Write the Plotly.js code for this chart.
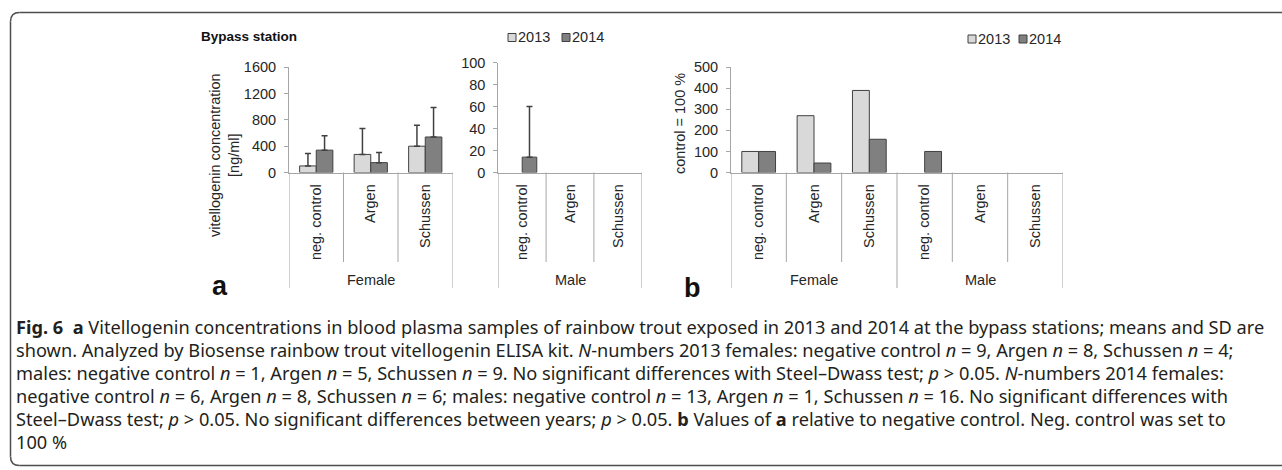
<!DOCTYPE html>
<html><head><meta charset="utf-8">
<script src="https://cdn.plot.ly/plotly-3.0.1.min.js"></script>
<style>html,body{margin:0;padding:0;background:#fff;overflow:hidden}#chart{width:1282px;height:470px}</style>
</head><body><div id="chart"></div>
<script>
// ---------- data ----------
const categories = ['neg. control', 'Argen', 'Schussen'];
const groups = ['Female', 'Male'];
const years = ['2013', '2014'];
// panel a, Female: vitellogenin [ng/ml], mean and SD (upper bar)
const femaleMean2013 = [100, 275, 400];
const femaleSD2013 = [190, 395, 320];
const femaleMean2014 = [340, 150, 540];
const femaleSD2014 = [220, 155, 450];
// panel a, Male
const maleMean2013 = [null, null, null];
const maleSD2013 = [null, null, null];
const maleMean2014 = [14, null, null];
const maleSD2014 = [46, null, null];
// panel b: relative to negative control (control = 100 %)
const relFemale2013 = [100, 270, 390];
const relFemale2014 = [100, 45, 158];
const relMale2013 = [null, null, null];
const relMale2014 = [100, null, null];
const yTicksFemale = [0, 400, 800, 1200, 1600];
const yTicksMale = [0, 20, 40, 60, 80, 100];
const yTicksRel = [0, 100, 200, 300, 400, 500];

// ---------- helpers ----------
const W = 1282, H = 470;
const fx = p => p / W;
const fy = p => 1 - p / H;
const FONT = 'Liberation Sans, Arial, sans-serif';
const TXT = '#262626';
const AX = '#a6a6a6';
const C13 = '#d9d9d9', C14 = '#808080', EDGE = '#404040';
const ZERO = 172.5;

function errs(arr) { return { type: 'data', array: arr, arrayminus: arr.map(() => 0), symmetric: false, color: EDGE, thickness: 1.5, width: 3 }; }
function bar(name, x, y, color, xa, ya, err) {
  const t = { type: 'bar', name: name, x: x, y: y, xaxis: xa, yaxis: ya, offsetgroup: name,
    marker: { color: color, line: { color: EDGE, width: 1 } }, showlegend: false, hoverinfo: 'x+y' };
  if (err) t.error_y = errs(err);
  return t;
}
const idx3 = categories.map((c, i) => i);
const relCats = groups.flatMap(() => categories);
const idx6 = relCats.map((c, i) => i);

const data = [
  bar(years[0], idx3, femaleMean2013, C13, 'x', 'y', femaleSD2013),
  bar(years[1], idx3, femaleMean2014, C14, 'x', 'y', femaleSD2014),
  bar(years[0], idx3, maleMean2013, C13, 'x2', 'y2', maleSD2013),
  bar(years[1], idx3, maleMean2014, C14, 'x2', 'y2', maleSD2014),
  bar(years[0], idx6, relFemale2013.concat(relMale2013), C13, 'x3', 'y3'),
  bar(years[1], idx6, relFemale2014.concat(relMale2014), C14, 'x3', 'y3')
];

function xaxis(x0, x1, n, labels) {
  return { domain: [fx(x0), fx(x1)], range: [-0.5, n - 0.5], tickmode: 'array',
    tickvals: labels.map((l, i) => i), ticktext: labels, tickangle: -90, ticks: '',
    ticklabelstandoff: 5, showline: true, linecolor: AX, linewidth: 1, showgrid: false, zeroline: false,
    tickfont: { family: FONT, size: 14.5, color: TXT }, fixedrange: true };
}
function yaxis(anchor, top, ticks) {
  return { anchor: anchor, domain: [fy(ZERO), fy(top)], range: [ticks[0], ticks[ticks.length - 1]],
    tickmode: 'array', tickvals: ticks, ticks: 'outside', ticklen: 4, tickcolor: AX,
    ticklabelstandoff: 5,
    showline: true, linecolor: AX, linewidth: 1, showgrid: false, zeroline: false,
    tickfont: { family: FONT, size: 14.5, color: TXT }, fixedrange: true };
}

const shapes = [];
const annotations = [];
function dividers(xref, n) {
  for (let i = 0; i <= n; i++) {
    const outer = (i % 3 === 0);
    shapes.push({ type: 'line', xref: xref, yref: 'paper', x0: i - 0.5, x1: i - 0.5,
      y0: fy(ZERO), y1: fy(outer ? 288 : 262), line: { color: AX, width: 1 } });
  }
}
dividers('x', 3); dividers('x2', 3); dividers('x3', 6);

function groupLabel(xref, x, text) {
  annotations.push({ xref: xref, yref: 'paper', x: x, y: fy(279.5), text: text, showarrow: false,
    xanchor: 'center', yanchor: 'middle', font: { family: FONT, size: 14.5, color: TXT } });
}
groupLabel('x', 1, groups[0]);
groupLabel('x2', 1, groups[1]);
groupLabel('x3', 1, groups[0]);
groupLabel('x3', 4, groups[1]);

// legends
function legend(xs) {
  const cols = [C13, C14];
  xs.forEach((x, k) => {
    shapes.push({ type: 'rect', xref: 'paper', yref: 'paper', x0: fx(x), x1: fx(x + 8),
      y0: fy(xs.y + 4), y1: fy(xs.y - 4), fillcolor: cols[k], line: { color: EDGE, width: 1 } });
    annotations.push({ xref: 'paper', yref: 'paper', x: fx(x + 9), y: fy(xs.y), text: years[k],
      showarrow: false, xanchor: 'left', yanchor: 'middle', borderpad: 0,
      font: { family: FONT, size: 14.5, color: TXT } });
  });
}
const legA = [508, 562]; legA.y = 37.5; legend(legA);
const legB = [968, 1019]; legB.y = 39; legend(legB);

// titles
annotations.push({ xref: 'paper', yref: 'paper', x: fx(200), y: fy(36), text: '<b>Bypass station</b>',
  showarrow: false, xanchor: 'left', yanchor: 'middle', borderpad: 0, font: { family: FONT, size: 13.5, color: '#111' } });
annotations.push({ xref: 'paper', yref: 'paper', x: fx(224), y: fy(155), text: 'vitellogenin concentration<br>[ng/ml]',
  showarrow: false, textangle: -90, xanchor: 'center', yanchor: 'middle', font: { family: FONT, size: 14.5, color: TXT } });
annotations.push({ xref: 'paper', yref: 'paper', x: fx(680), y: fy(124), text: 'control = 100 %',
  showarrow: false, textangle: -90, xanchor: 'center', yanchor: 'middle', font: { family: FONT, size: 14.5, color: TXT } });
annotations.push({ xref: 'paper', yref: 'paper', x: fx(220), y: fy(286), text: '<b>a</b>',
  showarrow: false, xanchor: 'center', yanchor: 'middle', font: { family: FONT, size: 27, color: '#111' } });
annotations.push({ xref: 'paper', yref: 'paper', x: fx(692), y: fy(288), text: '<b>b</b>',
  showarrow: false, xanchor: 'center', yanchor: 'middle', font: { family: FONT, size: 27, color: '#111' } });

// caption
const caption = [
  '<b>Fig. 6</b>  <b>a</b> Vitellogenin concentrations in blood plasma samples of rainbow trout exposed in 2013 and 2014 at the bypass stations; means and SD are',
  'shown. Analyzed by Biosense rainbow trout vitellogenin ELISA kit. <i>N</i>-numbers 2013 females: negative control <i>n</i> = 9, Argen <i>n</i> = 8, Schussen <i>n</i> = 4;',
  'males: negative control <i>n</i> = 1, Argen <i>n</i> = 5, Schussen <i>n</i> = 9. No significant differences with Steel–Dwass test; <i>p</i> &gt; 0.05. <i>N</i>-numbers 2014 females:',
  'negative control <i>n</i> = 6, Argen <i>n</i> = 8, Schussen <i>n</i> = 6; males: negative control <i>n</i> = 13, Argen <i>n</i> = 1, Schussen <i>n</i> = 16. No significant differences with',
  'Steel–Dwass test; <i>p</i> &gt; 0.05. No significant differences between years; <i>p</i> &gt; 0.05. <b>b</b> Values of <b>a</b> relative to negative control. Neg. control was set to',
  '100 %'
];
caption.forEach((t, i) => {
  annotations.push({ xref: 'paper', yref: 'paper', x: fx(15), y: fy(327 + 23 * i), text: t, showarrow: false,
    xanchor: 'left', yanchor: 'middle', align: 'left', borderpad: 0,
    font: { family: 'Noto Sans, sans-serif', size: 18.2, color: '#231f20' } });
});

// frame (rounded box open to the right)
const L = 10.5, T = 12.5, B = 465.5, r = 9;
const frameLine = { color: '#4d4d4d', width: 1.5 };
shapes.push({ type: 'line', xref: 'paper', yref: 'paper', x0: fx(L + r), x1: 1.05, y0: fy(T), y1: fy(T), line: frameLine });
shapes.push({ type: 'line', xref: 'paper', yref: 'paper', x0: fx(L + r), x1: 1.05, y0: fy(B), y1: fy(B), line: frameLine });
shapes.push({ type: 'line', xref: 'paper', yref: 'paper', x0: fx(L), x1: fx(L), y0: fy(T + r), y1: fy(B - r), line: frameLine });
shapes.push({ type: 'path', xref: 'paper', yref: 'paper',
  path: `M ${fx(L)},${fy(T + r)} Q ${fx(L)},${fy(T)} ${fx(L + r)},${fy(T)}`, line: frameLine });
shapes.push({ type: 'path', xref: 'paper', yref: 'paper',
  path: `M ${fx(L)},${fy(B - r)} Q ${fx(L)},${fy(B)} ${fx(L + r)},${fy(B)}`, line: frameLine });

const layout = {
  width: W, height: H, margin: { l: 0, r: 0, t: 0, b: 0 }, paper_bgcolor: '#fff', plot_bgcolor: 'rgba(0,0,0,0)',
  showlegend: false, barmode: 'group', bargap: 0.39, bargroupgap: 0,
  xaxis: Object.assign(xaxis(289, 452.5, 3, categories), { anchor: 'y' }),
  yaxis: yaxis('x', 67.3, yTicksFemale),
  xaxis2: Object.assign(xaxis(498.3, 641.7, 3, categories), { anchor: 'y2' }),
  yaxis2: yaxis('x2', 62.7, yTicksMale),
  xaxis3: Object.assign(xaxis(731, 1063, 6, relCats), { anchor: 'y3' }),
  yaxis3: yaxis('x3', 67.3, yTicksRel),
  shapes: shapes, annotations: annotations
};
Plotly.newPlot('chart', data, layout, { displayModeBar: false, staticPlot: true });
</script></body></html>
